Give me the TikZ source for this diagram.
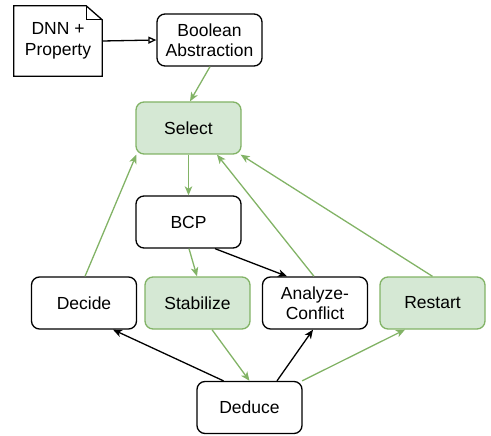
\documentclass[tikz,border=0pt]{standalone}
\usepackage{fontspec}
\setmainfont{Liberation Sans}
\usetikzlibrary{arrows.meta}
\definecolor{gstroke}{HTML}{82B366}
\definecolor{gfill}{HTML}{D5E8D4}
\begin{document}
\begin{tikzpicture}[x=1pt,y=-1pt,
  every node/.style={font=\fontsize{17.5}{20.5}\selectfont},
  box/.style={draw=black,line width=1.3pt,rounded corners=8pt,minimum width=105pt,minimum height=52pt,inner sep=0pt,align=center,fill=white},
  gbox/.style={box,draw=gstroke,fill=gfill},
  blk/.style={draw=black,line width=1.3pt,-{Stealth[length=9pt,width=7.5pt,inset=2.5pt]}},
  grn/.style={draw=gstroke,line width=1.3pt,-{Stealth[length=9pt,width=7.5pt,inset=2.5pt]}},
  opn/.style={draw=black,line width=1.3pt,-{Triangle[open,length=8pt,width=7pt,fill=white]}}
]
\useasboundingbox (0,0) rectangle (491,436);
\node[minimum width=88pt,minimum height=70pt,inner sep=0pt,align=center] (doc) at (58,41) {DNN +\\Property};
\draw[line width=1.3pt] (doc.north west) -- ([xshift=-16pt]doc.north east) -- ([yshift=-14pt]doc.north east) -- (doc.south east) -- (doc.south west) -- cycle;
\draw[line width=1.3pt] ([xshift=-16pt]doc.north east) -- ([xshift=-16pt,yshift=-14pt]doc.north east) -- ([yshift=-14pt]doc.north east);
\node[box] (bool) at (209.5,40) {Boolean\\Abstraction};
\node[gbox] (select) at (188.5,128) {Select};
\node[box] (bcp) at (188.5,222) {BCP};
\node[box] (decide) at (84,303) {Decide};
\node[gbox] (stab) at (197.5,303) {Stabilize};
\node[box] (anal) at (315,303) {Analyze-\\Conflict};
\node[gbox] (restart) at (432.5,303) {Restart};
\node[box] (deduce) at (249.5,407.5) {Deduce};
\draw[opn] (doc.east) -- (bool.west);
\draw[grn] ([xshift=0.5pt]bool.south) -- ([xshift=1.5pt]select.north);
\draw[grn] (select.south) -- (bcp.north);
\draw[grn] ([xshift=0.5pt]bcp.south) -- ([xshift=-0.5pt]stab.north);
\draw[blk] ([xshift=26.5pt]bcp.south) -- ([xshift=-28pt]anal.north);
\draw[grn] ([xshift=-1pt]anal.north) -- ([xshift=28.5pt]select.south);
\draw[grn] (restart.north) -- ([xshift=-1pt]select.south east);
\draw[grn] ([xshift=1pt]decide.north) -- ([xshift=1pt]select.south west);
\draw[blk] ([xshift=-26pt]deduce.north) -- ([xshift=29pt]decide.south);
\draw[grn] ([xshift=14.5pt]stab.south) -- (deduce.north);
\draw[blk] ([xshift=27.5pt]deduce.north) -- ([xshift=-2pt]anal.south);
\draw[grn] ([xshift=-0.5pt]deduce.north east) -- ([xshift=-27.5pt]restart.south);
\end{tikzpicture}
\end{document}
